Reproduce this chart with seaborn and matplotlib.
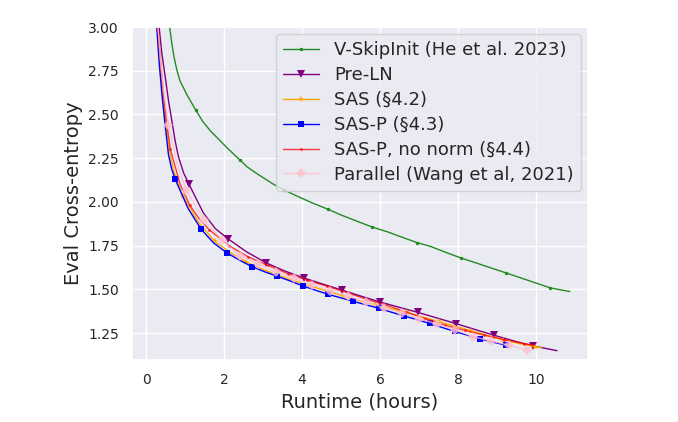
import numpy as np
import pandas as pd
import seaborn as sns
import matplotlib
matplotlib.use("Agg")
import matplotlib.pyplot as plt

# V-SkipInit (He et al. 2023)
skip_x = [0.52, 0.60, 0.66, 0.72, 0.79, 0.87, 1.05, 1.27, 1.45, 1.65, 1.85, 2.07, 2.40, 2.59, 2.85, 3.27, 3.53,
          3.85, 4.25, 4.67, 5.00, 5.40, 5.80, 6.20, 6.60, 6.95, 7.30, 7.70, 8.08, 8.50, 8.85, 9.23, 9.60, 10.00,
          10.37, 10.87]
skip_y = [3.30, 3.00, 2.90, 2.82, 2.75, 2.69, 2.61, 2.525, 2.46, 2.405, 2.36, 2.31, 2.24, 2.20, 2.16, 2.10, 2.069,
          2.035, 1.995, 1.957, 1.925, 1.89, 1.856, 1.828, 1.795, 1.767, 1.745, 1.71, 1.679, 1.648, 1.622, 1.594,
          1.566, 1.536, 1.508, 1.487]
skip_marks = [7, 12, 16, 19, 22, 25, 28, 31, 34]

# Pre-LN
preln_x = [0.26, 0.33, 0.40, 0.49, 0.57, 0.66, 0.74, 0.83, 0.96, 1.10, 1.30, 1.47, 1.77, 2.09, 2.57, 3.06,
           3.55, 4.04, 4.53, 5.03, 5.51, 5.99, 6.48, 6.97, 7.46, 7.96, 8.44, 8.93, 9.43, 9.93, 10.25, 10.54]
preln_y = [3.35, 3.00, 2.85, 2.71, 2.58, 2.46, 2.35, 2.255, 2.165, 2.10, 2.01, 1.935, 1.848, 1.79, 1.715, 1.653,
           1.605, 1.565, 1.53, 1.495, 1.461, 1.428, 1.398, 1.368, 1.336, 1.303, 1.27, 1.237, 1.205, 1.176, 1.162, 1.149]
preln_marks = [9] + list(range(13, 30, 2))

# SAS (§4.2)
sas_x = [0.22, 0.28, 0.34, 0.41, 0.49, 0.59, 0.70, 0.82, 0.94, 1.35, 1.76, 2.16, 2.57, 2.98, 3.39, 3.80,
         4.22, 4.63, 5.05, 5.45, 5.86, 6.27, 6.68, 7.09, 7.50, 7.91, 8.33, 8.74, 9.15, 9.56, 9.97, 10.13]
sas_y = [3.35, 3.00, 2.81, 2.63, 2.47, 2.30, 2.18, 2.10, 2.035, 1.88, 1.774, 1.71, 1.656, 1.615, 1.58, 1.548,
         1.518, 1.49, 1.462, 1.437, 1.413, 1.39, 1.368, 1.342, 1.316, 1.29, 1.263, 1.237, 1.212, 1.19, 1.172, 1.166]
sas_marks = list(range(8, 31, 2))

# SAS-P (§4.3)
sasp_x = [0.22, 0.27, 0.33, 0.40, 0.47, 0.57, 0.65, 0.745, 1.08, 1.41, 1.73, 2.06, 2.39, 2.71, 3.04, 3.36, 3.69,
          4.01, 4.34, 4.66, 4.98, 5.30, 5.63, 5.96, 6.28, 6.61, 6.94, 7.27, 7.59, 7.92, 8.25, 8.57, 8.90, 9.22]
sasp_y = [3.30, 3.00, 2.80, 2.62, 2.47, 2.27, 2.19, 2.128, 1.96, 1.843, 1.765, 1.71, 1.667, 1.63, 1.60, 1.575, 1.548,
          1.52, 1.495, 1.472, 1.452, 1.432, 1.412, 1.392, 1.370, 1.348, 1.327, 1.305, 1.282, 1.259, 1.237, 1.216, 1.198, 1.181]
sasp_marks = list(range(7, 34, 2))

# SAS-P, no norm (§4.4)
nonorm_x = [0.24, 0.30, 0.37, 0.45, 0.53, 0.62, 0.87, 1.12, 1.37, 1.62, 2.12, 2.62, 3.12, 3.63, 4.13, 4.63,
            5.14, 5.64, 6.15, 6.65, 7.16, 7.66, 8.17, 8.67, 9.18, 9.68, 9.95]
nonorm_y = [3.35, 3.00, 2.80, 2.60, 2.44, 2.30, 2.10, 1.98, 1.90, 1.84, 1.75, 1.685, 1.637, 1.59, 1.552, 1.518,
            1.482, 1.444, 1.41, 1.372, 1.333, 1.295, 1.265, 1.238, 1.212, 1.19, 1.18]
nonorm_marks = [5, 7] + list(range(9, 26))

# Parallel (Wang et al, 2021)
par_x = [0.25, 0.30, 0.37, 0.45, 0.57, 0.80, 1.03, 1.49, 1.95, 2.41, 2.87, 3.33, 3.79, 4.25, 4.71, 5.17,
         5.63, 6.09, 6.55, 7.01, 7.47, 7.93, 8.39, 8.85, 9.31, 9.77]
par_y = [3.35, 3.00, 2.80, 2.63, 2.44, 2.21, 2.065, 1.894, 1.78, 1.69, 1.645, 1.60, 1.562, 1.527, 1.493, 1.46,
         1.428, 1.396, 1.365, 1.333, 1.30, 1.27, 1.228, 1.205, 1.18, 1.153]
par_marks = [4] + list(range(6, 26))

series = [
    ("V-SkipInit (He et al. 2023)", skip_x, skip_y, skip_marks, "forestgreen", ".", 5, 1.0),
    ("Pre-LN", preln_x, preln_y, preln_marks, "purple", "v", 6, 1.0),
    ("SAS (§4.2)", sas_x, sas_y, sas_marks, "orange", "*", 5, 1.0),
    ("SAS-P (§4.3)", sasp_x, sasp_y, sasp_marks, "blue", "s", 5, 1.0),
    ("SAS-P, no norm (§4.4)", nonorm_x, nonorm_y, nonorm_marks, "red", ".", 4, 0.75),
    ("Parallel (Wang et al, 2021)", par_x, par_y, par_marks, "pink", "D", 5, 0.8),
]

sns.set_theme(style="darkgrid")
fig = plt.figure(figsize=(6.78, 4.22), dpi=100)
ax = fig.add_axes([0.195, 0.147, 0.672, 0.789])

for label, xs, ys, marks, color, marker, ms, alpha in series:
    sns.lineplot(x=xs, y=ys, sort=False, estimator=None, ax=ax, label=label,
                 color=color, marker=marker, markersize=ms, markevery=marks,
                 linewidth=1.0, alpha=alpha, markeredgewidth=0)

ax.set_xlim(-0.36, 11.33)
ax.set_ylim(1.096, 3.0)
ax.set_xticks([0, 2, 4, 6, 8, 10])
ax.set_yticks([1.25, 1.5, 1.75, 2.0, 2.25, 2.5, 2.75, 3.0])
ax.set_yticklabels([f"{v:.2f}" for v in [1.25, 1.5, 1.75, 2.0, 2.25, 2.5, 2.75, 3.0]])
ax.tick_params(labelsize=10)
ax.set_xlabel("Runtime (hours)", fontsize=14)
ax.set_ylabel("Eval Cross-entropy", fontsize=14)
ax.legend(loc="upper right", fontsize=13, labelspacing=0.38, borderaxespad=0.4)

fig.savefig("out.png", dpi=100)
